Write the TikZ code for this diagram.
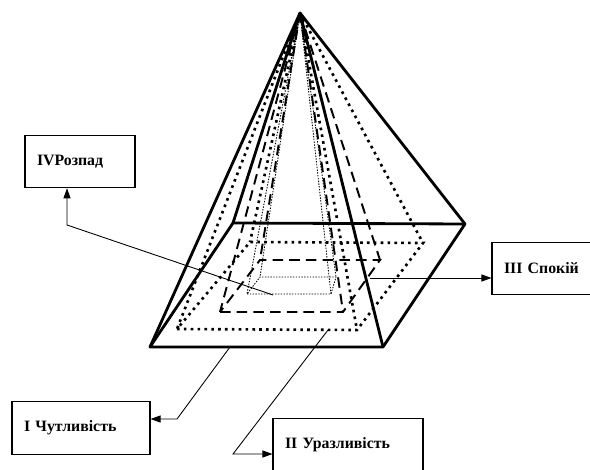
\documentclass[tikz,border=0pt]{standalone}
\usepackage{fontspec}
\setmainfont{Liberation Serif}
\usetikzlibrary{arrows.meta}

\begin{document}
\begin{tikzpicture}[x=0.02cm, y=-0.02cm,
  edge/.style={line width=1.6pt, line join=round},
  dotedge/.style={line width=1.5pt, dash pattern=on 1.5pt off 2.4pt},
  dashedge/.style={line width=1.1pt, dash pattern=on 6pt off 3.5pt},
  fineedge/.style={line width=0.5pt, dash pattern=on 0.8pt off 0.8pt},
  stagebox/.style={draw, line width=0.6pt, inner xsep=0.24cm, align=left, minimum height=1.05cm, font=\fontsize{9}{10}\selectfont\bfseries},
  pointer/.style={line width=0.5pt, -{Triangle[length=2mm, width=1.4mm]}}]
\useasboundingbox (0,0) rectangle (590,469);
% Corners
\coordinate (apex) at (300,13);
\coordinate (fl) at (150,347); \coordinate (fr) at (383,347);
\coordinate (br) at (465,224); \coordinate (bl) at (233,223);
\coordinate (dotfl) at (177,329); \coordinate (dotfr) at (357,330);
\coordinate (dotbr) at (423,243); \coordinate (dotbl) at (250,242);
\coordinate (dashfl) at (220,312); \coordinate (dashfr) at (343,312);
\coordinate (dashbr) at (380,260); \coordinate (dashbl) at (260,260);
\coordinate (finefl) at (247,294); \coordinate (finefr) at (331,294);
\coordinate (finebr) at (336,277); \coordinate (finebl) at (260,277);
% Inner pyramids
\draw[fineedge] (finefl) -- (finefr) -- (finebr) -- (finebl) -- cycle;
\draw[fineedge] (apex) -- (finefl) (apex) -- (finefr) (apex) -- (finebr) (apex) -- (finebl);
\draw[dashedge] (dashfl) -- (dashfr) -- (dashbr) -- (dashbl) -- cycle;
\draw[dashedge] (apex) -- (dashfl) (apex) -- (dashfr) (apex) -- (dashbr) (apex) -- (dashbl);
\draw[dotedge] (dotfl) -- (dotfr) -- (dotbr) -- (dotbl) -- cycle;
\draw[dotedge] (apex) -- (dotfl) (apex) -- (dotfr) (apex) -- (dotbr) (apex) -- (dotbl);
% Outer pyramid
\draw[edge] (fl) -- (fr) -- (br) -- (bl) -- cycle;
\draw[edge] (fl) -- (apex) -- (fr) (bl) -- (apex) -- (br);
% Boxes
\node[stagebox, text width=1.72cm] (rozpad) at (80,161.5) {IVРозпад};
\node[stagebox, text width=1.54cm] (spokii) at (542.5,268.5) {III Спокій};
\node[stagebox, text width=2.28cm] (chutl) at (81,428) {I Чутливість};
\node[stagebox, text width=2.52cm] (urazl) at (348,445) {II Уразливість};
% Pointers
\coordinate (p4) at (273,295); \coordinate (k4) at (67,225);
\draw[pointer] (p4) -- (k4) -- (k4 |- rozpad.south);
\coordinate (p3) at (370,278);
\draw[pointer] (p3) -- (p3 -| spokii.west);
\coordinate (p1) at (230,347); \coordinate (k1) at (177,419);
\draw[pointer] (p1) -- (k1) -- (k1 -| chutl.east);
\coordinate (p2) at (328,330); \coordinate (k2) at (233,454);
\draw[pointer] (p2) -- (k2) -- (k2 -| urazl.west);
\end{tikzpicture}
\end{document}
